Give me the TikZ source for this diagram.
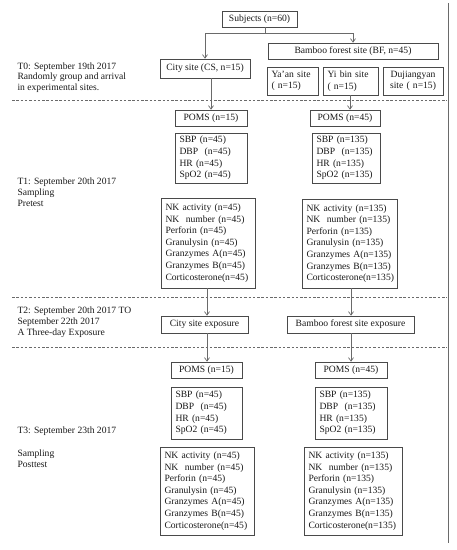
\documentclass[tikz,border=0pt]{standalone}
\usepackage{fontspec}
\setmainfont{Liberation Serif}
\usetikzlibrary{arrows.meta}
\definecolor{boxgray}{HTML}{4A4A4A}
\definecolor{linegray}{HTML}{6A6A6A}
\begin{document}
\begin{tikzpicture}[x=1bp,y=-1bp,
  every node/.style={font=\fontsize{9.6bp}{11.6bp}\selectfont, text=black!90},
  box/.style={draw=boxgray, line width=0.6bp, inner ysep=0pt, inner xsep=4.5bp},
  cbox/.style={box, minimum width=#1, align=center},
  lbox/.style={box, text width=#1, align=left},
  conn/.style={draw=linegray, line width=0.7bp},
  arr/.style={conn, -{Straight Barb[length=3.5bp,width=5bp]}},
  sep/.style={draw=linegray, line width=0.6bp, dash pattern=on 2.5bp off 1.8bp},
  lefttext/.style={anchor=west, align=left, font=\fontsize{9.6bp}{10.8bp}\selectfont}]
\useasboundingbox (0,0) rectangle (457,550);

% timeline separators and right border
\coordinate (s0l) at (12,100); \coordinate (s0r) at (447,100);
\coordinate (s1l) at (12,297); \coordinate (s1r) at (447,297);
\coordinate (s2l) at (12,347); \coordinate (s2r) at (447,347);
\coordinate (vt) at (448,3); \coordinate (vb) at (448,543);
\draw[sep] (s0l) -- (s0r);
\draw[sep] (s1l) -- (s1r);
\draw[sep] (s2l) -- (s2r);
\draw[conn, line width=0.8bp] (vt) -- (vb);

% left labels
\node[lefttext] (t0) at (14,77.5) {T0: September 19th 2017\\Randomly group and arrival\\in experimental sites.};
\node[lefttext] (t1) at (14,192) {T1: September 20th 2017\\Sampling\\Pretest};
\node[lefttext] (t2) at (14,322) {T2: September 20th 2017 TO\\September 22th 2017\\A Three-day Exposure};
\node[lefttext] (t3) at (14,431) {T3: September 23th 2017};
\node[lefttext] (t3b) at (14,458.5) {Sampling\\Posttest};

% T0 boxes
\node[cbox=75bp, minimum height=16bp] (subj) at (259.5,19) {Subjects (n=60)};
\node[cbox=90bp, minimum height=19bp] (city) at (205,68.5) {City site (CS, n=15)};
\node[cbox=170bp, minimum height=16bp] (bf) at (353,51) {Bamboo forest site (BF, n=45)};
\node[lbox=42bp, minimum height=28bp] (yaan) at (292.5,81) {Ya'an site\\( n=15)};
\node[lbox=46bp, minimum height=28bp] (yibin) at (350.5,81) {Yi bin site\\( n=15)};
\node[box, text width=51bp, align=center, minimum height=28bp] (duj) at (413,81) {Dujiangyan\\site ( n=15)};

\coordinate (j) at (265,33);
\draw[conn] (subj.south -| j) -- (j);
\draw[arr] (j) -| (city.north);
\draw[arr] (j) -| (bf.north);

% T1 boxes
\node[cbox=72bp, minimum height=16bp] (pomsL) at (211,118) {POMS (n=15)};
\node[cbox=70bp, minimum height=16bp] (pomsR) at (345,118) {POMS (n=45)};
\node[lbox=63bp, minimum height=50bp] (sbpL) at (211,158) {SBP (n=45)\\DBP\ \ (n=45)\\HR (n=45)\\SpO2 (n=45)};
\node[lbox=59bp, minimum height=50bp] (sbpR) at (346,158) {SBP (n=135)\\DBP\ \ (n=135)\\HR (n=135)\\SpO2 (n=135)};
\node[lbox=85bp, minimum height=90bp] (nkL) at (208,243) {NK activity (n=45)\\NK\ \ number (n=45)\\Perforin (n=45)\\Granulysin (n=45)\\Granzymes A(n=45)\\Granzymes B(n=45)\\Corticosterone(n=45)};
\node[lbox=86bp, minimum height=89bp] (nkR) at (349.5,243.5) {NK activity (n=135)\\NK\ \ number (n=135)\\Perforin (n=135)\\Granulysin (n=135)\\Granzymes A(n=135)\\Granzymes B(n=135)\\Corticosterone(n=135)};

\draw[arr] (city.south -| pomsL.north) -- (pomsL.north);
\coordinate (ya) at (350,0);
\draw[arr] (yibin.south -| ya) -- (pomsR.north -| ya);

% T2 boxes
\node[cbox=87bp, minimum height=17bp] (cexp) at (204.5,324.5) {City site exposure};
\node[cbox=127bp, minimum height=17bp] (bexp) at (350.5,324.5) {Bamboo forest site exposure};

\coordinate (xl) at (207,0);
\coordinate (xr) at (351,0);
\draw[arr] (nkL.south -| xl) -- (cexp.north -| xl);
\draw[arr] (nkR.south -| xr) -- (bexp.north -| xr);

% T3 boxes
\node[cbox=71bp, minimum height=16bp] (pomsL2) at (206.5,370) {POMS (n=15)};
\node[cbox=72bp, minimum height=16bp] (pomsR2) at (351,370) {POMS (n=45)};
\node[lbox=62bp, minimum height=52bp] (sbpL2) at (206.5,413) {SBP (n=45)\\DBP\ \ (n=45)\\HR (n=45)\\SpO2 (n=45)};
\node[lbox=63bp, minimum height=52bp] (sbpR2) at (351,413) {SBP (n=135)\\DBP\ \ (n=135)\\HR (n=135)\\SpO2 (n=135)};
\node[lbox=85bp, minimum height=88bp] (nkL2) at (207,491) {NK activity (n=45)\\NK\ \ number (n=45)\\Perforin (n=45)\\Granulysin (n=45)\\Granzymes A(n=45)\\Granzymes B(n=45)\\Corticosterone(n=45)};
\node[lbox=89bp, minimum height=88bp] (nkR2) at (353,491) {NK activity (n=135)\\NK\ \ number (n=135)\\Perforin (n=135)\\Granulysin (n=135)\\Granzymes A(n=135)\\Granzymes B(n=135)\\Corticosterone(n=135)};

\draw[arr] (cexp.south -| xl) -- (pomsL2.north -| xl);
\draw[arr] (bexp.south -| xr) -- (pomsR2.north -| xr);
\end{tikzpicture}
\end{document}
